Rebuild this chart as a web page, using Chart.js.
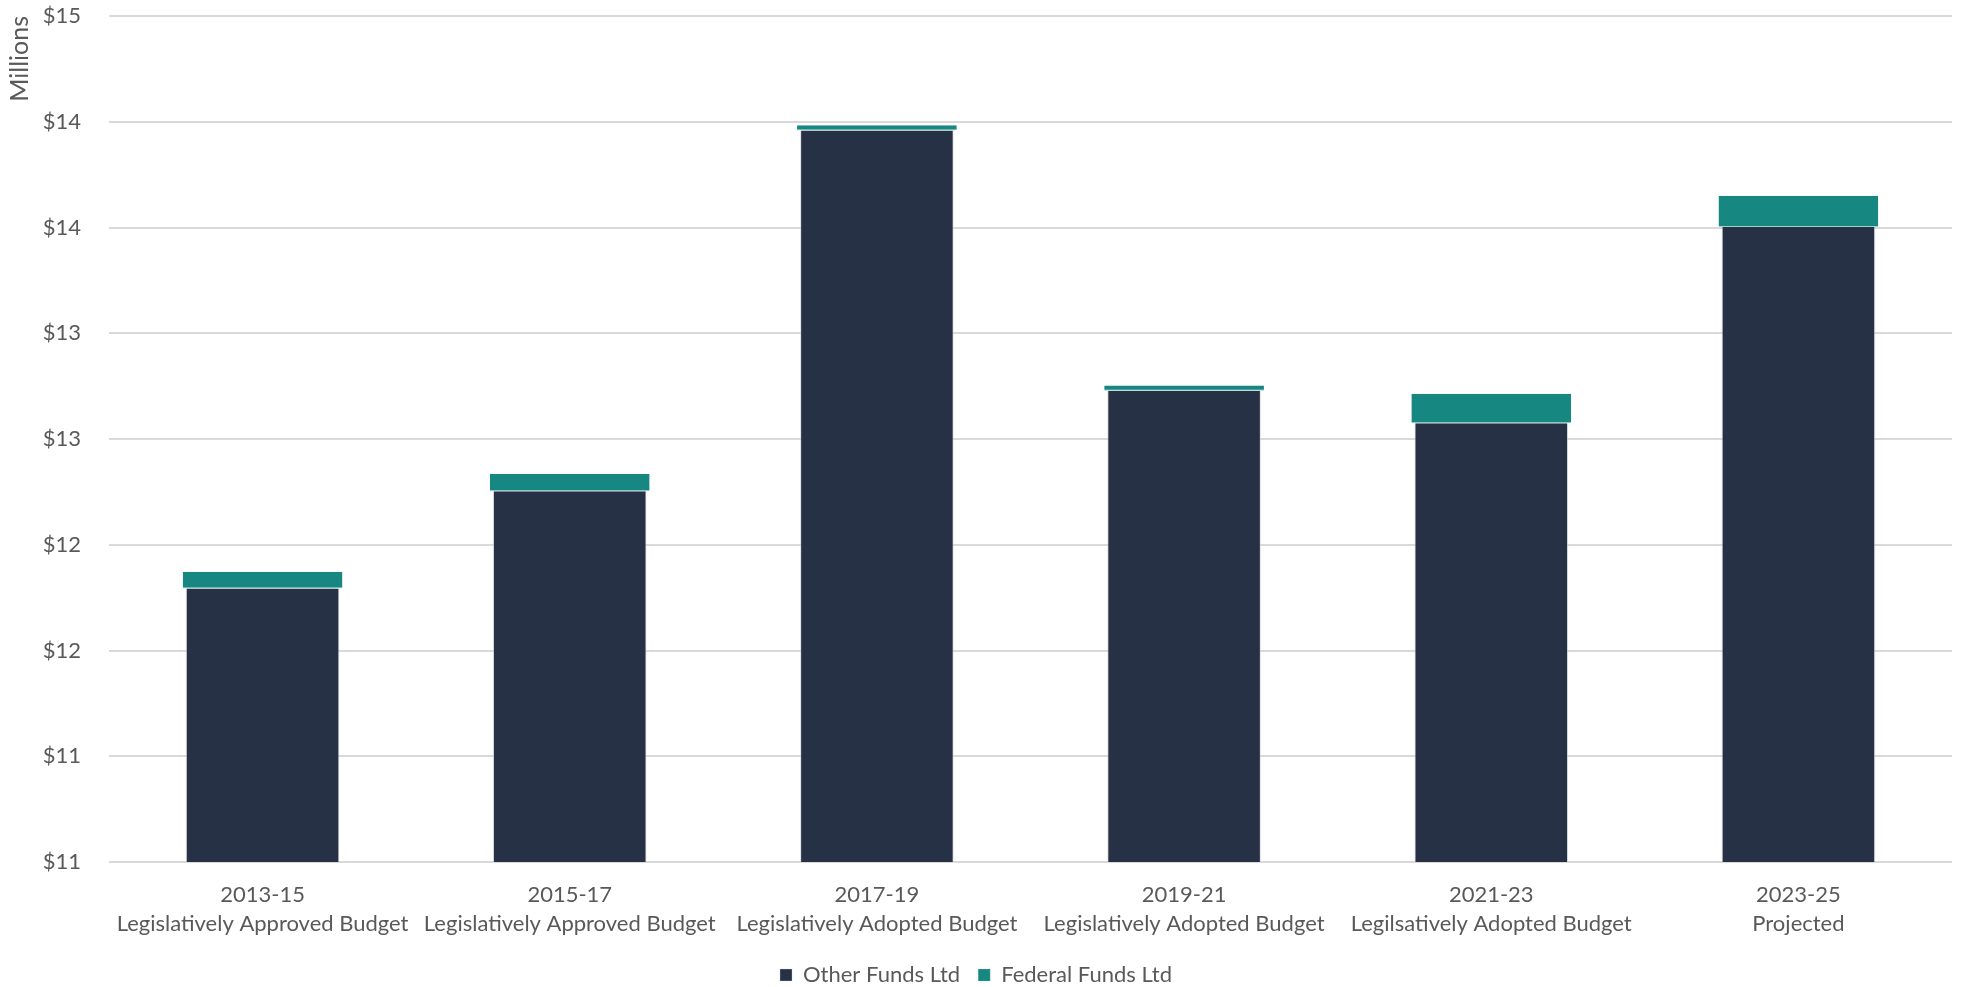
<!DOCTYPE html>
<html>
<head>
<meta charset="utf-8">
<script src="https://cdn.jsdelivr.net/npm/chart.js@4.4.1/dist/chart.umd.min.js"></script>
<style>
  html, body { margin: 0; padding: 0; background: #ffffff; }
  #wrap { width: 1963px; height: 987px; position: relative; }
</style>
</head>
<body>
<div id="wrap"><canvas id="chart"></canvas></div>
<script>
// Biennium labels (two lines each)
const categories = [
  ['2013-15', 'Legislatively Approved Budget'],
  ['2015-17', 'Legislatively Approved Budget'],
  ['2017-19', 'Legislatively Adopted Budget'],
  ['2019-21', 'Legislatively Adopted Budget'],
  ['2021-23', 'Legilsatively Adopted Budget'],
  ['2023-25', 'Projected']
];

// Values in millions of dollars
const otherFunds   = [11.793, 12.253, 13.959, 12.728, 12.575, 13.502];
const federalFunds = [0.079, 0.081, 0.024, 0.025, 0.139, 0.148];

// Axis range and the rounded dollar labels shown at each step
const yMin = 10.5;
const yMax = 14.5;
const yStep = 0.5;
const yTickLabels = ['$11', '$11', '$12', '$12', '$13', '$13', '$14', '$14', '$15'];

const textColor = '#595959';
const gridColor = '#d9d9d9';
const fontFamily = 'Lato, "Open Sans", "Liberation Sans", sans-serif';

new Chart(document.getElementById('chart'), {
  type: 'bar',
  data: {
    labels: categories,
    datasets: [
      {
        label: 'Other Funds Ltd',
        data: otherFunds,
        backgroundColor: '#263145',
        borderColor: 'rgba(200,205,215,0.7)',
        borderWidth: { left: 1, right: 1, top: 0, bottom: 0 },
        borderSkipped: false,
        categoryPercentage: 1,
        barPercentage: 0.5
      },
      {
        label: 'Federal Funds Ltd',
        data: federalFunds,
        backgroundColor: '#178782',
        borderColor: 'rgba(150,205,200,0.9)',
        borderWidth: { left: 0, right: 0, top: 0, bottom: 1 },
        borderSkipped: false,
        categoryPercentage: 1,
        barPercentage: 0.52
      }
    ]
  },
  options: {
    responsive: true,
    maintainAspectRatio: false,
    animation: false,
    layout: { padding: { top: 0, right: 11, left: 0, bottom: -9 } },
    plugins: {
      tooltip: { enabled: false },
      legend: {
        position: 'bottom',
        labels: {
          color: textColor,
          font: { family: fontFamily, size: 22 },
          boxWidth: 12,
          boxHeight: 12,
          padding: 18
        }
      }
    },
    scales: {
      x: {
        stacked: true,
        grid: { display: false },
        border: { display: false },
        ticks: {
          color: textColor,
          font: { family: fontFamily, size: 22, lineHeight: 1.32 },
          padding: 10,
          maxRotation: 0,
          autoSkip: false
        },
        afterFit: (scale) => { scale.height = 84; }
      },
      y: {
        stacked: true,
        min: yMin,
        max: yMax,
        grid: { color: gridColor, lineWidth: 2, drawTicks: false },
        border: { display: false },
        ticks: {
          stepSize: yStep,
          color: textColor,
          font: { family: fontFamily, size: 22 },
          padding: 28,
          callback: (value, index) => yTickLabels[index]
        },
        title: {
          display: true,
          text: 'Millions',
          align: 'end',
          color: textColor,
          font: { family: fontFamily, size: 25 },
          padding: { top: 5, bottom: 0 }
        },
        afterFit: (scale) => {
          scale.width = 109;
          scale.paddingTop = 16;
        }
      }
    }
  }
});
</script>
</body>
</html>
